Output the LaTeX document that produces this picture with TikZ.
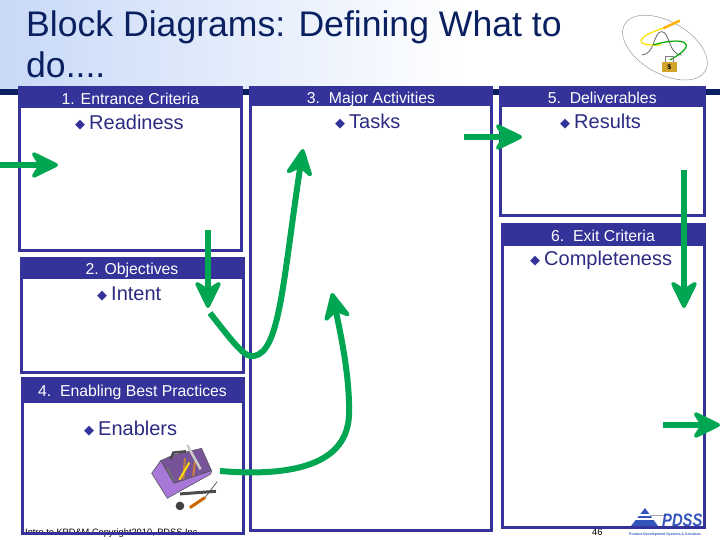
\documentclass[tikz,border=0pt]{standalone}
\usepackage{fontspec}
\setmainfont{Liberation Sans}
\newfontfamily\symfont{DejaVu Sans}
\usetikzlibrary{arrows.meta, shapes.geometric}

\definecolor{boxblue}{HTML}{333399}
\definecolor{flowgreen}{HTML}{00A651}
\definecolor{titlenavy}{HTML}{0A2060}
\definecolor{toolpurple}{HTML}{A878D8}
\definecolor{bandblue}{HTML}{C8D9F7}
\definecolor{logoblue}{HTML}{3355BB}

\begin{document}
\begin{tikzpicture}[x = 1 pt, y = -1 pt,
	flow/.style = {flowgreen, line width = 6 pt, -{Stealth[length = 32pt, width = 31pt, inset = 10pt, line width = 4pt, round]}},
	box/.style = {draw = boxblue, line width = 3 pt, inner sep = 0, outer sep = 0},
	head/.style = {box, fill = boxblue, text = white, text height = 14 pt, text depth = 0 pt, font = \fontsize{15.8}{18}\selectfont},
	item/.style = {anchor = base west, inner sep = 0, text = boxblue!85!black, font = \fontsize{20}{22}\selectfont},
	dot/.style = {anchor = base west, inner sep = 0, text = boxblue, font = \symfont\fontsize{13}{14}\selectfont},
	small/.style = {anchor = base west, inner sep = 0, font = \fontsize{9.25}{11}\selectfont},
	titleline/.style = {anchor = base west, inner sep = 0, text = titlenavy, font = \fontsize{35.6}{38}\selectfont}]

	\useasboundingbox (0, 0) rectangle (720, 540);

	% Title band

	\shade [left color = bandblue, right color = white] (0, 0) rectangle (470, 89);
	\fill [titlenavy] (0, 89) rectangle (720, 95);

	\node (title-a) [titleline] at (26, 37) {Block Diagrams: Defining What to};
	\node (title-b) [titleline] at (26, 78) {do....};

	% Footer, partly hidden by the boxes

	\node (footer) [small] at (25, 535) {Intro to KPD\&M  Copyright2010, PDSS Inc};
	\node (page) [small] at (592, 535) {46};

	% Boxes with their headers

	\foreach \name/\xa/\ya/\xb/\yh/\yb/\head in {
		entrance/19.5/88/241.5/107/250/{1. Entrance Criteria},
		objectives/21/258.5/243/277/372/{2. Objectives},
		activities/250.5/88/491.5/105/530/{3.\ \ Major Activities},
		enabling/22/378.5/243/401/533/{4.\ \ Enabling Best Practices},
		deliverables/500.5/87.5/704/106/216/{5.\ \ Deliverables},
		exit/502/225/704/244/527/{6.\ \ Exit Criteria}}
	{
		\node (\name-box) [box, minimum width = {\xb - \xa}, minimum height = {\yb - \ya}] at ({(\xa + \xb) / 2}, {(\ya + \yb) / 2}) {};
		\node (\name-head) [head, minimum width = {\xb - \xa}, minimum height = {\yh - \ya}] at ({(\xa + \xb) / 2}, {(\ya + \yh) / 2}) {\head};
	}

	% Items

	\foreach \name/\x/\y/\word in {readiness/89/130/Readiness, intent/111/300/Intent, tasks/349/129/Tasks,
		enablers/98/435/Enablers, results/574/129/Results, completeness/544/265/Completeness}
	{
		\node (\name-dot) [dot] at (\x - 14, \y - 1) {◆};
		\node (\name) [item] at (\x, \y) {\word};
	}

	% Toolbox

	\begin{scope}[shift = {(130, 430)}, x = 0.333 pt, y = -0.333 pt]
		\filldraw [fill = toolpurple!70!black, draw = black!70, line width = 0.5 pt] (92, 92) -- (130, 75) -- (215, 55) -- (245, 122) -- (132, 160) -- cycle;
		\draw [black!70, line width = 2.5 pt] (122, 88) -- (130, 68) -- (168, 64);
		\draw [brown, line width = 2 pt] (160, 148) -- (165, 85);
		\draw [yellow!80!orange, line width = 2 pt] (148, 150) -- (178, 98);
		\draw [brown!80!orange, line width = 2 pt] (190, 138) -- (195, 95);
		\draw [black!20, line width = 2.5 pt] (172, 45) -- (212, 118);
		\draw [black!55, line width = 2 pt] (112, 115) -- (130, 155);
		\filldraw [fill = toolpurple, draw = black!70, line width = 0.5 pt] (65, 130) -- (92, 92) -- (132, 160) -- (245, 122) -- (243, 132) -- (112, 205) -- cycle;
		\draw [black!70, line width = 3 pt] (150, 192) -- (258, 184);
		\draw [orange!80!black, line width = 3 pt] (180, 233) -- (225, 203);
		\draw [black!70, line width = 0.7 pt] (225, 203) -- (262, 155);
		\fill [black!75] (150, 228) circle (13);
	\end{scope}

	% Logo at the top right

	\begin{scope}[shift = {(620, 5)}, x = 0.333 pt, y = -0.333 pt]
		\draw [black!40, line width = 0.5 pt, rotate around = {-30 : (135, 128)}] (135, 128) ellipse (140 and 78);
		\draw [black!60, line width = 0.8 pt] (65, 150) .. controls (105, 150) and (100, 80) .. (125, 80) .. controls (150, 80) and (145, 150) .. (185, 150);
		\draw [yellow!85!orange, line width = 1.3 pt] (130, 70) .. controls (60, 90) and (25, 125) .. (125, 120);
		\draw [orange!60!yellow, line width = 2.5 pt] (130, 70) -- (180, 47);
		\draw [green!65!black, line width = 1.2 pt] (100, 120) .. controls (180, 95) and (250, 110) .. (150, 165);
		\draw [black!50, line width = 1 pt] (137, 172) -- (137, 155) -- (160, 155) -- (160, 172);
		\fill [brown!70!yellow] (125, 170) rectangle (172, 201);
		\node (lock-sign) [inner sep = 0, font = \bfseries\fontsize{7}{8}\selectfont] at (148, 186) {\$};
	\end{scope}

	% Logo at the bottom right

	\fill [logoblue] (631, 526) -- (645, 508) -- (658, 526) -- cycle;
	\foreach \y in {514, 518}
		\fill [white] (636, \y) rectangle (660, \y + 1.5);
	\fill [black!35] (650, 515) rectangle (664, 516);
	\node (logo-name) [anchor = base west, inner sep = 0, text = logoblue, transform shape, xscale = 0.82, font = \bfseries\itshape\fontsize{18}{18}\selectfont] at (662, 526) {PDSS};
	\node (logo-line) [anchor = base west, inner sep = 0, text = logoblue, font = \bfseries\fontsize{3.5}{4}\selectfont] at (629, 535) {Product Development Systems \& Solutions};

	% Ends of the connectors

	\coordinate (in-start) at (0, 165);
	\coordinate (in-tip) at (58, 165);
	\coordinate (down-start) at (208, 230);
	\coordinate (down-tip) at (208, 308);
	\coordinate (up-start) at (210, 313);
	\coordinate (up-tip) at (303, 149);
	\coordinate (tool-start) at (220, 471);
	\coordinate (tool-tip) at (332, 293);
	\coordinate (out-start) at (464, 137);
	\coordinate (out-tip) at (522, 137);
	\coordinate (exit-start) at (684, 170);
	\coordinate (exit-tip) at (684, 308);
	\coordinate (last-start) at (663, 425);
	\coordinate (last-tip) at (720, 425);

	% Green connectors

	\draw [flow] (in-start) -- (in-tip);
	\draw [flow] (down-start) -- (down-tip);
	\draw [flow] (up-start) .. controls (235, 345) and (245, 358) .. (254, 356) .. controls (280, 352) and (283, 280) .. (up-tip);
	\draw [flow] (tool-start) .. controls (280, 476) and (347, 470) .. (349, 415) .. controls (350, 380) and (342, 340) .. (tool-tip);
	\draw [flow] (out-start) -- (out-tip);
	\draw [flow] (exit-start) -- (exit-tip);
	\draw [flow] (last-start) -- (last-tip);

\end{tikzpicture}
\end{document}
